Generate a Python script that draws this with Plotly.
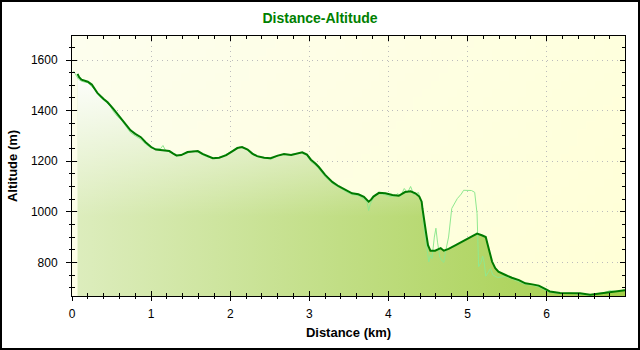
import base64
import struct
import zlib

import plotly.graph_objects as go

# Smoothed altitude profile (km, m)
dist_km = [0.07, 0.09, 0.12, 0.20, 0.25, 0.32, 0.40, 0.45, 0.52, 0.57, 0.63, 0.68, 0.74, 0.80,
           0.87, 0.93, 1.00, 1.06, 1.15, 1.23, 1.28, 1.32, 1.38, 1.46, 1.53, 1.59, 1.65, 1.72,
           1.78, 1.86, 1.95, 2.03, 2.09, 2.15, 2.22, 2.28, 2.34, 2.43, 2.51, 2.60, 2.68, 2.77,
           2.85, 2.91, 2.97, 3.02, 3.08, 3.12, 3.20, 3.29, 3.37, 3.46, 3.54, 3.62, 3.69, 3.75,
           3.78, 3.81, 3.88, 3.96, 4.05, 4.13, 4.21, 4.28, 4.34, 4.39, 4.42, 4.43, 4.46, 4.48,
           4.50, 4.53, 4.59, 4.66, 4.70, 4.76, 4.85, 4.93, 4.99, 5.06, 5.12, 5.18, 5.23, 5.25,
           5.28, 5.31, 5.35, 5.39, 5.48, 5.56, 5.65, 5.73, 5.82, 5.90, 5.98, 6.04, 6.17, 6.30,
           6.42, 6.55, 6.63, 6.72, 6.80, 6.89, 6.99]
alt_m = [1545, 1532, 1522, 1514, 1503, 1470, 1446, 1433, 1408, 1388, 1366, 1348, 1322, 1308,
         1295, 1275, 1256, 1246, 1243, 1240, 1230, 1223, 1224, 1236, 1238, 1240, 1229, 1219,
         1212, 1214, 1224, 1240, 1252, 1256, 1246, 1230, 1220, 1214, 1212, 1222, 1228, 1225,
         1232, 1235, 1226, 1206, 1190, 1177, 1146, 1118, 1101, 1086, 1073, 1069, 1059, 1040,
         1048, 1060, 1075, 1073, 1066, 1063, 1078, 1081, 1073, 1060, 1040, 1013, 960, 908,
         868, 846, 846, 856, 846, 853, 868, 881, 893, 905, 914, 907, 900, 876,
         842, 803, 777, 763, 750, 739, 730, 717, 713, 708, 695, 685, 679, 680,
         678, 672, 675, 678, 683, 685, 690]

# Raw GPS altitude track (km, m)
raw_km = [0.02, 0.05, 0.08, 0.12, 0.20, 0.25, 0.30, 0.35, 0.42, 0.48, 0.52, 0.57, 0.63, 0.68,
          0.74, 0.80, 0.87, 0.93, 1.00, 1.06, 1.12, 1.15, 1.18, 1.25, 1.32, 1.40, 1.46, 1.53,
          1.59, 1.65, 1.72, 1.80, 1.88, 1.95, 2.00, 2.06, 2.12, 2.20, 2.28, 2.36, 2.45, 2.52,
          2.58, 2.66, 2.74, 2.82, 2.90, 2.97, 3.02, 3.10, 3.20, 3.30, 3.38, 3.46, 3.54, 3.62,
          3.68, 3.73, 3.75, 3.77, 3.82, 3.88, 3.95, 4.02, 4.08, 4.12, 4.15, 4.20, 4.24, 4.28,
          4.32, 4.38, 4.42, 4.44, 4.47, 4.49, 4.51, 4.53, 4.55, 4.58, 4.60, 4.62, 4.65, 4.68,
          4.70, 4.72, 4.76, 4.80, 4.87, 4.92, 4.95, 5.05, 5.09, 5.12, 5.14, 5.17, 5.19, 5.21,
          5.23, 5.26, 5.29, 5.32, 5.38, 5.48, 5.56, 5.65, 5.73, 5.82, 5.90, 5.98, 6.04, 6.17,
          6.30, 6.42, 6.55, 6.63, 6.72, 6.80, 6.89, 6.99]
raw_alt = [1556, 1540, 1525, 1516, 1510, 1495, 1478, 1455, 1436, 1420, 1398, 1378, 1360, 1340,
           1313, 1300, 1287, 1268, 1252, 1248, 1250, 1262, 1244, 1236, 1220, 1226, 1232, 1240,
           1236, 1225, 1216, 1210, 1216, 1226, 1236, 1248, 1256, 1248, 1226, 1216, 1210, 1208,
           1218, 1226, 1224, 1230, 1232, 1222, 1198, 1178, 1138, 1110, 1096, 1080, 1068, 1064,
           1052, 1038, 1005, 1030, 1062, 1072, 1068, 1060, 1062, 1072, 1060, 1092, 1075, 1100,
           1068, 1076, 1030, 960, 890, 845, 802, 830, 815, 900, 935, 880, 820, 805,
           800, 840, 900, 1013, 1052, 1070, 1085, 1084, 1077, 993, 783, 800, 825, 800,
           745, 760, 776, 750, 740, 745, 735, 725, 713, 710, 703, 690, 682, 676,
           678, 674, 670, 676, 680, 688, 684, 692]

x_ticks = [0, 1, 2, 3, 4, 5, 6]
y_ticks = [800, 1000, 1200, 1400, 1600]

W, H = 640, 350
M = dict(l=72, r=15, t=36, b=54)
X_RANGE = [0, 6.99]
Y_RANGE = [667, 1695]


def gradient_png(w, h, c0, c1, wx):
    """Small diagonal-gradient PNG as a data URI."""
    rows = []
    for j in range(h):
        row = bytearray([0])
        for i in range(w):
            t = wx * i / (w - 1) + (1 - wx) * j / (h - 1)
            row += bytes(round(a + (b - a) * t) for a, b in zip(c0, c1))
        rows.append(bytes(row))

    def chunk(tag, data):
        return (struct.pack(">I", len(data)) + tag + data +
                struct.pack(">I", zlib.crc32(tag + data) & 0xFFFFFFFF))

    png = (b"\x89PNG\r\n\x1a\n" +
           chunk(b"IHDR", struct.pack(">IIBBBBB", w, h, 8, 2, 0, 0, 0)) +
           chunk(b"IDAT", zlib.compress(b"".join(rows))) +
           chunk(b"IEND", b""))
    return "data:image/png;base64," + base64.b64encode(png).decode()


fig = go.Figure()

# Area under the profile: green ramp left->right, whitened towards the top
fig.add_trace(go.Scatter(
    x=dist_km, y=alt_m, mode="none", fill="tozeroy", hoverinfo="skip",
    fillgradient=dict(type="horizontal", start=0, stop=7,
                      colorscale=[[0, "rgb(221,237,190)"], [1, "rgb(163,206,72)"]]),
))
fig.add_trace(go.Scatter(
    x=dist_km, y=alt_m, mode="none", fill="tozeroy", hoverinfo="skip",
    fillgradient=dict(type="vertical", start=980, stop=1570,
                      colorscale=[[0, "rgba(255,255,255,0)"], [1, "rgba(255,255,255,1)"]]),
))

# Raw track, then the smoothed profile on top
fig.add_trace(go.Scatter(x=raw_km, y=raw_alt, mode="lines",
                         line=dict(color="#8fe88f", width=1)))
fig.add_trace(go.Scatter(x=dist_km, y=alt_m, mode="lines",
                         line=dict(color="#007a00", width=2)))

# Empty trace that carries the overlaid tick axes (inner tick marks)
fig.add_trace(go.Scatter(x=[], y=[], xaxis="x2", yaxis="y2", hoverinfo="skip"))

pw = W - M["l"] - M["r"]
ph = H - M["t"] - M["b"]

label_font = dict(family="Liberation Sans, Arial", size=12, color="black")
title_font = dict(family="Liberation Sans, Arial", size=13, color="black", weight="bold")

# Outer axes: labels, grid, outward tick stubs
fig.update_layout(
    xaxis=dict(
        range=X_RANGE, tickvals=x_ticks, ticklabelstandoff=3,
        showline=True, linecolor="black", linewidth=1, mirror=True,
        ticks="outside", ticklen=4, tickcolor="black",
        minor=dict(dtick=0.2, ticks="outside", ticklen=2, tickcolor="black", showgrid=False),
        showgrid=True, gridcolor="#bcbcbc", griddash="1px,4px", zeroline=False,
        tickfont=label_font,
        title=dict(text="Distance (km)", standoff=7, font=title_font),
    ),
    yaxis=dict(
        range=Y_RANGE, tickvals=y_ticks, ticklabelstandoff=6,
        showline=True, linecolor="black", linewidth=1, mirror=True,
        ticks="outside", ticklen=5, tickcolor="black",
        minor=dict(dtick=50, ticks="outside", ticklen=2, tickcolor="black", showgrid=False),
        showgrid=True, gridcolor="#bcbcbc", griddash="1px,4px", zeroline=False,
        tickfont=label_font,
        title=dict(text="Altitude (m)", standoff=10, font=title_font),
    ),
    # Inner tick marks on all four sides
    xaxis2=dict(
        range=X_RANGE, tickvals=x_ticks, overlaying="x", anchor="y2", side="bottom",
        showticklabels=False, showgrid=False, zeroline=False,
        showline=False, mirror="allticks",
        ticks="inside", ticklen=5, tickcolor="black",
        minor=dict(dtick=0.2, ticks="inside", ticklen=3, tickcolor="black", showgrid=False),
    ),
    yaxis2=dict(
        range=Y_RANGE, tickvals=y_ticks, overlaying="y", anchor="x2", side="left",
        showticklabels=False, showgrid=False, zeroline=False,
        showline=False, mirror="allticks",
        ticks="inside", ticklen=5, tickcolor="black",
        minor=dict(dtick=50, ticks="inside", ticklen=3, tickcolor="black", showgrid=False),
    ),
)

fig.update_layout(
    width=W, height=H, margin=M,
    paper_bgcolor="white", plot_bgcolor="#fefee6",
    showlegend=False,
    title=dict(text="Distance-Altitude", x=0.5, xref="container", xanchor="center",
               y=1 - 18 / H, yref="container", yanchor="middle",
               font=dict(family="Liberation Sans, Arial", size=14, color="#008000", weight="bold")),
    images=[dict(source=gradient_png(64, 32, (253, 254, 238), (255, 255, 214), 0.7),
                 xref="paper", yref="paper", x=0, y=1, sizex=1, sizey=1,
                 xanchor="left", yanchor="top", sizing="stretch", layer="below")],
    shapes=[dict(type="rect", xref="paper", yref="paper",
                 x0=-(M["l"] - 1) / pw, x1=1 + (M["r"] - 1) / pw,
                 y0=-(M["b"] - 1) / ph, y1=1 + (M["t"] - 1) / ph,
                 line=dict(color="black", width=2), layer="above")],
)

fig.write_html("out.html")
